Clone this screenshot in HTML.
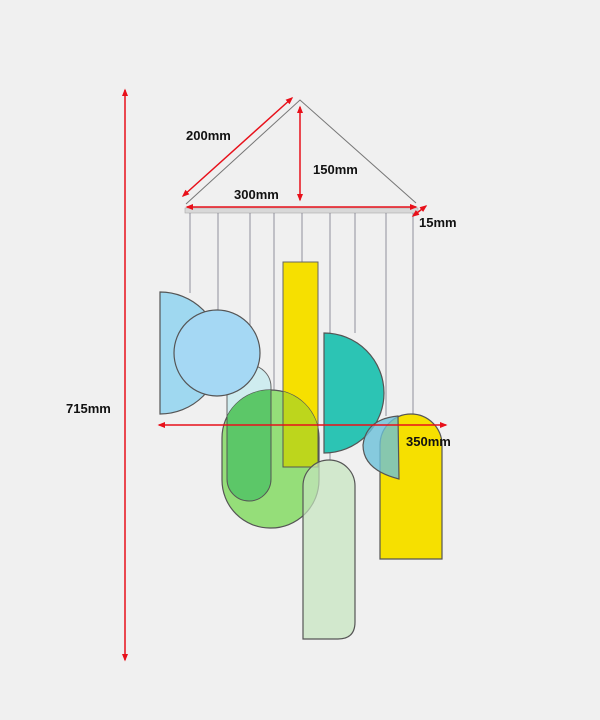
<!DOCTYPE html>
<html><head><meta charset="utf-8"><style>
html,body{margin:0;padding:0;background:#f0f0f0;}
svg{display:block;}
text{font-family:"Liberation Sans",sans-serif;font-weight:bold;font-size:13px;fill:#111;}
</style></head><body>
<svg width="600" height="720" viewBox="0 0 600 720" xmlns="http://www.w3.org/2000/svg">
<rect width="600" height="720" fill="#f0f0f0"/>
<defs>
<clipPath id="gc"><rect x="222" y="390" width="97" height="138" rx="48"/></clipPath>
<marker id="ar" viewBox="0 0 10 10" refX="8" refY="5" markerWidth="5" markerHeight="5" orient="auto-start-reverse"><path d="M0,1 L10,5 L0,9 z" fill="#e8101a"/></marker>
</defs>
<polyline points="186,204 300,100 416,203" fill="none" stroke="#777" stroke-width="1"/>
<rect x="185" y="208" width="233" height="5" fill="#d8d8d8" stroke="#aaa" stroke-width="0.6"/>
<g stroke="#667" stroke-width="0.7">
<line x1="190" y1="213" x2="190" y2="293"/>
<line x1="218" y1="213" x2="218" y2="310"/>
<line x1="250" y1="213" x2="250" y2="325"/>
<line x1="274" y1="213" x2="274" y2="390"/>
<line x1="302" y1="213" x2="302" y2="262"/>
<line x1="330" y1="213" x2="330" y2="460"/>
<line x1="355" y1="213" x2="355" y2="333"/>
<line x1="386" y1="213" x2="386" y2="416"/>
<line x1="413" y1="213" x2="413" y2="414"/>
</g>
<path d="M160,292 A61,61 0 0 1 160,414 Z" fill="#9fd8f0" stroke="#555" stroke-width="1.2"/>
<rect x="227" y="365" width="44" height="136" rx="22" fill="#cfecef" stroke="#666" stroke-width="1"/>
<circle cx="217" cy="353" r="43" fill="#a5d8f4" stroke="#555" stroke-width="1.2"/>
<rect x="283" y="262" width="35" height="205" fill="#f6e000" stroke="#666" stroke-width="1"/>
<rect x="222" y="390" width="97" height="138" rx="48" fill="#8fdc72" fill-opacity="0.95" stroke="#555" stroke-width="1.2"/>
<g clip-path="url(#gc)">
<rect x="227" y="365" width="44" height="136" rx="22" fill="#5cc768" stroke="#555" stroke-width="1"/>
<rect x="283" y="262" width="35" height="205" fill="#bdd61c" stroke="#555" stroke-width="1"/>
</g>
<path d="M324,333 A60,60 0 0 1 324,453 Z" fill="#2cc4b4" stroke="#555" stroke-width="1.2"/>
<path d="M303,486 A26,26 0 0 1 355,486 L355,622 Q355,639 338,639 L303,639 Z" fill="#c5e4be" fill-opacity="0.7" stroke="#555" stroke-width="1.2"/>
<path d="M380,445 A31,31 0 0 1 442,445 L442,559 L380,559 Z" fill="#f6e000" stroke="#555" stroke-width="1.2"/>
<path d="M398,416 L399,479 Q363,470 363,445 Q366,419 398,416 Z" fill="#6cc0da" fill-opacity="0.8" stroke="#555" stroke-width="1.2"/>
<g stroke="#e8101a" stroke-width="1.5" fill="none">
<line x1="125" y1="90" x2="125" y2="660" marker-start="url(#ar)" marker-end="url(#ar)"/>
<line x1="183" y1="196" x2="292" y2="98" marker-start="url(#ar)" marker-end="url(#ar)"/>
<line x1="300" y1="107" x2="300" y2="200" marker-start="url(#ar)" marker-end="url(#ar)"/>
<line x1="187" y1="207" x2="416" y2="207" marker-start="url(#ar)" marker-end="url(#ar)"/>
<line x1="413" y1="216" x2="426" y2="206" marker-start="url(#ar)" marker-end="url(#ar)"/>
<line x1="159" y1="425" x2="446" y2="425" marker-start="url(#ar)" marker-end="url(#ar)"/>
</g>
<text x="186" y="140">200mm</text>
<text x="313" y="174">150mm</text>
<text x="234" y="199">300mm</text>
<text x="419" y="227">15mm</text>
<text x="406" y="446">350mm</text>
<text x="66" y="413">715mm</text>
</svg>
</body></html>
